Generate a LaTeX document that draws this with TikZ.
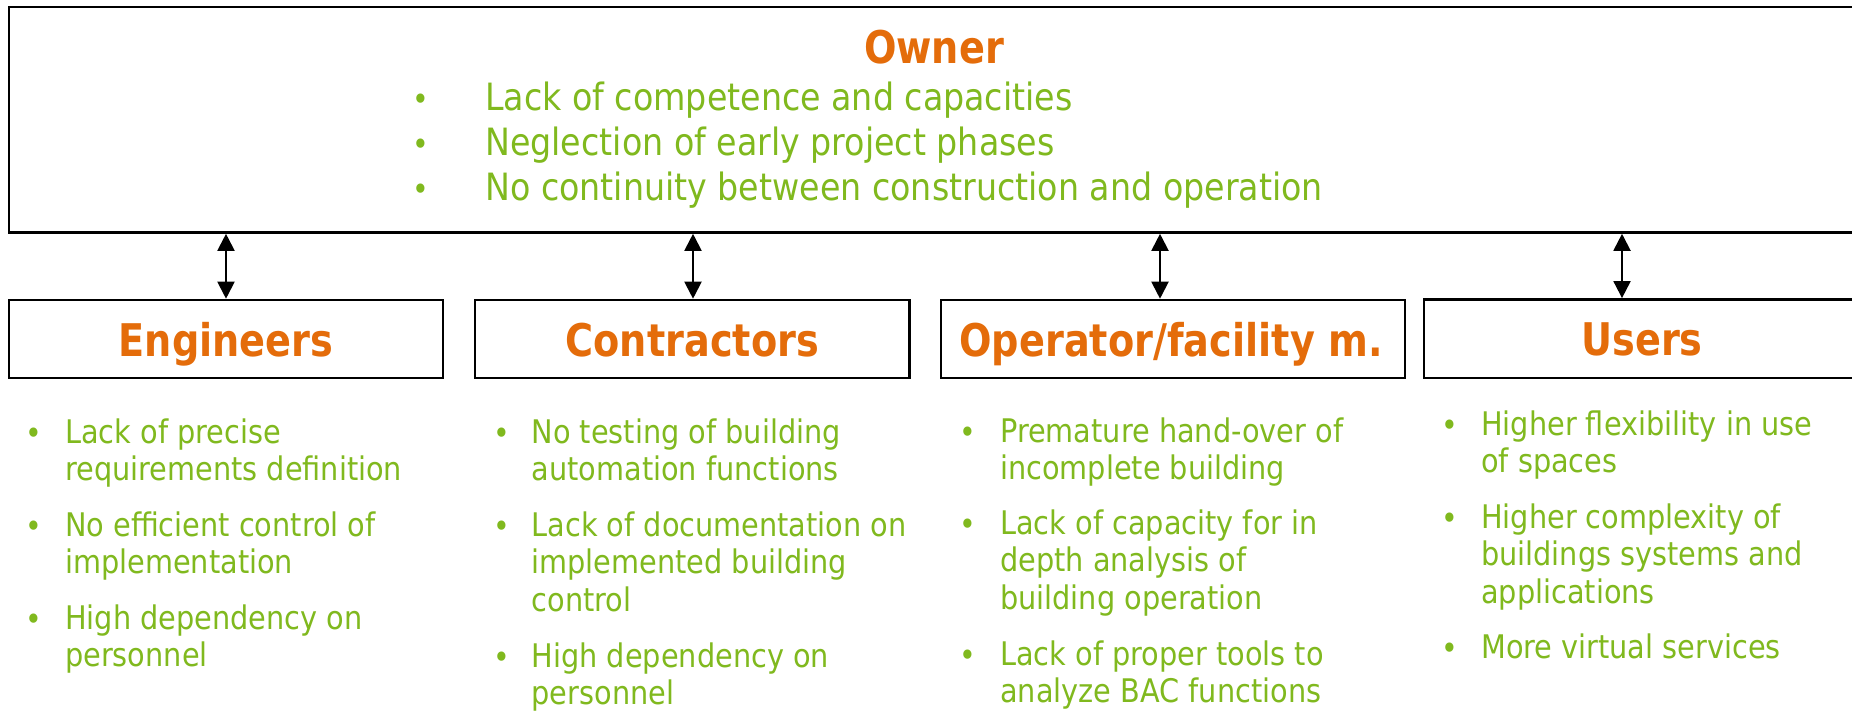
\documentclass[tikz,border=0pt]{standalone}
\usepackage{fontspec}
\setmainfont{DejaVu Sans}[FakeStretch=0.885]
\newfontfamily\titlefont{DejaVu Sans}[FakeStretch=0.85]
\usetikzlibrary{arrows.meta}
\definecolor{ttlorange}{HTML}{E46C0A}
\definecolor{txtgreen}{HTML}{80B91E}
\begin{document}
\begin{tikzpicture}[x=1pt,y=-1pt,
  frame/.style={draw=black,line width=2.6pt,inner sep=0pt,fill=none},
  titletext/.style={text=ttlorange,font=\titlefont\bfseries\fontsize{45}{54}\selectfont,anchor=base,inner sep=0pt},
  ownertext/.style={text=txtgreen,font=\fontsize{37.6}{45}\selectfont,anchor=base west,inner sep=0pt},
  ownerdot/.style={text=txtgreen,font=\fontsize{32}{36}\selectfont,anchor=base,inner sep=0pt},
  itemtext/.style={text=txtgreen,font=\fontsize{32.5}{37.6}\selectfont,anchor=base west,inner sep=0pt},
  itemdot/.style={text=txtgreen,font=\fontsize{32}{36}\selectfont,anchor=base,inner sep=0pt,yshift=-1pt},
  link/.style={{Triangle[width=17pt,length=17pt]}-{Triangle[width=17pt,length=17pt]},line width=2pt}
]
\useasboundingbox (0,0) rectangle (1852,710);
\fill[white] (0,0) rectangle (1852,710);

% boxes
\node[frame,minimum width=1850pt,minimum height=225.5pt] (ownerbox) at (934,119.75) {};
\node[frame,minimum width=434pt,minimum height=78pt] (engbox) at (226,339) {};
\node[frame,minimum width=434.5pt,minimum height=78pt] (conbox) at (692.25,339) {};
\node[frame,minimum width=464pt,minimum height=78pt] (opbox) at (1173,339) {};
\node[frame,minimum width=435pt,minimum height=78.6pt] (usbox) at (1641.5,338.7) {};

% connectors
\coordinate (a1) at (226,0);
\coordinate (a2) at (693,0);
\coordinate (a3) at (1160,0);
\coordinate (a4) at (1622,0);
\draw[link] (ownerbox.south -| a1) -- (engbox.north -| a1);
\draw[link] (ownerbox.south -| a2) -- (conbox.north -| a2);
\draw[link] (ownerbox.south -| a3) -- (opbox.north -| a3);
\draw[link] (ownerbox.south -| a4) -- (usbox.north -| a4);

% titles
\node[titletext] (ownertitle) at (934,63) {Owner};
\node[titletext] (engtitle) at (226,356) {Engineers};
\node[titletext] (contitle) at (692.25,356) {Contractors};
\node[titletext] (optitle) at (1171,356) {Operator/facility m.};
\node[titletext] (ustitle) at (1642,355) {Users};

% owner list
\node[ownerdot] (od1) at (421,110) {•};
\node[ownertext] (ot1) at (485,110) {Lack of competence and capacities};
\node[ownerdot] (od2) at (421,155) {•};
\node[ownertext] (ot2) at (485,155) {Neglection of early project phases};
\node[ownerdot] (od3) at (421,200) {•};
\node[ownertext] (ot3) at (485,200) {No continuity between construction and operation};

% engineers list
\node[itemdot] (ed1) at (34,443) {•};
\node[itemtext] (et1) at (65,443) {\parbox[t]{380pt}{Lack of precise\\requirements definition}};
\node[itemdot] (ed2) at (34,536) {•};
\node[itemtext] (et2) at (65,536) {\parbox[t]{380pt}{No efficient control of\\implementation}};
\node[itemdot] (ed3) at (34,629) {•};
\node[itemtext] (et3) at (65,629) {\parbox[t]{380pt}{High dependency on\\personnel}};

% contractors list
\node[itemdot] (cd1) at (502,443) {•};
\node[itemtext] (ct1) at (531.5,443) {\parbox[t]{400pt}{No testing of building\\automation functions}};
\node[itemdot] (cd2) at (502,536) {•};
\node[itemtext] (ct2) at (531.5,536) {\parbox[t]{400pt}{Lack of documentation on\\implemented building\\control}};
\node[itemdot] (cd3) at (502,667) {•};
\node[itemtext] (ct3) at (531.5,667) {\parbox[t]{400pt}{High dependency on\\personnel}};

% operator list
\node[itemdot] (pd1) at (968,442) {•};
\node[itemtext] (pt1) at (1000,442) {\parbox[t]{400pt}{Premature hand-over of\\incomplete building}};
\node[itemdot] (pd2) at (968,534) {•};
\node[itemtext] (pt2) at (1000,534) {\parbox[t]{400pt}{Lack of capacity for in\\depth analysis of\\building operation}};
\node[itemdot] (pd3) at (968,665) {•};
\node[itemtext] (pt3) at (1000,665) {\parbox[t]{400pt}{Lack of proper tools to\\analyze BAC functions}};

% users list
\node[itemdot] (ud1) at (1450,435) {•};
\node[itemtext] (ut1) at (1481,435) {\parbox[t]{380pt}{Higher flexibility in use\\of spaces}};
\node[itemdot] (ud2) at (1450,528) {•};
\node[itemtext] (ut2) at (1481,528) {\parbox[t]{380pt}{Higher complexity of\\buildings systems and\\applications}};
\node[itemdot] (ud3) at (1450,658) {•};
\node[itemtext] (ut3) at (1481,658) {\parbox[t]{380pt}{More virtual services}};
\end{tikzpicture}
\end{document}
